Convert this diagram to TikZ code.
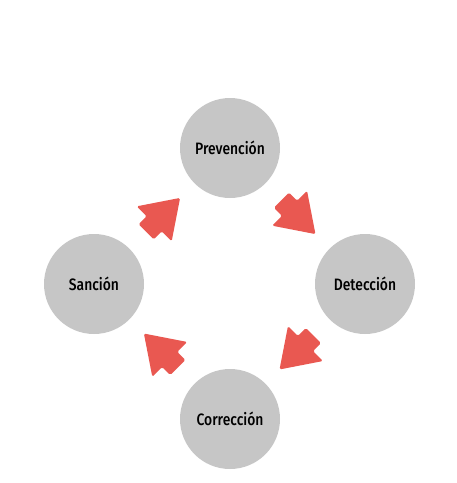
\documentclass[tikz,border=0pt]{standalone}
\usepackage{fontspec}
\setmainfont[FakeStretch=0.84]{Fira Sans Medium}
\usepackage{tikz}
\usetikzlibrary{shapes,calc}

\definecolor{stagegray}{RGB}{198,198,198}
\definecolor{arrowred}{RGB}{233,88,81}

\begin{document}
\begin{tikzpicture}[
        x=1pt, y=-1pt,
        stage/.style={circle, fill=stagegray, minimum size=100pt, inner sep=0pt, font=\fontsize{16.5}{18}\selectfont},
        flecha/.style={single arrow, fill=arrowred, minimum height=48pt,
            inner xsep=0pt, inner ysep=10.5pt,
            single arrow head extend=14pt, single arrow tip angle=68,
            rounded corners=1.5pt, anchor=tip}
        ]
    \useasboundingbox (0,0) rectangle (457,483);
    % the four stages
    \node[stage] (prev) at (230,148) {Prevención};
    \node[stage] (det)  at (365,284) {Detección};
    \node[stage] (corr) at (230,419) {Corrección};
    \node[stage] (sanc) at (94,284)  {Sanción};
    % the cycle
    \node[flecha, rotate=45]   (a1) at ($(sanc)!0.635!(prev)$) {};
    \node[flecha, rotate=-45]  (a2) at ($(prev)!0.635!(det)$)  {};
    \node[flecha, rotate=-135] (a3) at ($(det)!0.635!(corr)$)  {};
    \node[flecha, rotate=135]  (a4) at ($(corr)!0.635!(sanc)$) {};
\end{tikzpicture}
\end{document}
